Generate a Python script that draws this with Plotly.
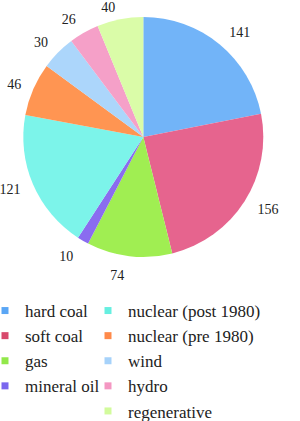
import plotly.graph_objects as go

labels = ["hard coal", "soft coal", "gas", "mineral oil", "nuclear (post 1980)",
          "nuclear (pre 1980)", "wind", "hydro", "regenerative"]
values = [141, 156, 74, 10, 121, 46, 30, 26, 40]
colors = ["#72b4f8", "#e6648e", "#a0ee52", "#8a6cf0", "#7cf4ea",
          "#ff9552", "#acd6fb", "#f5a0c8", "#dafca8"]
legend_colors = ["#5aa6f5", "#d8496c", "#92e84a", "#7a66ee", "#66efe0",
                 "#ff8a4a", "#a6d2fa", "#f497c2", "#d2fb9c"]
col1 = labels[:4]
col2 = labels[4:]

# style: extra outward offset of each value label (fraction of radius)
label_pull = [0.08, 0.09, 0.1, 0.1, 0.08, 0.075, 0.075, 0.075, 0.0]
# the top label is laid out on its own so it is not pushed by its neighbour
solo = "regenerative"
solo_pull = 0.04

W, H = 300, 421
cx, cy, r = 143.3, 137, 120
fnt = dict(family="Liberation Serif", size=14, color="#222")


def label_pie(texts, pulls):
    R = r * (1 + max(pulls))
    return go.Pie(
        labels=labels, values=values, sort=False, direction="clockwise", rotation=0,
        marker=dict(colors=["rgba(0,0,0,0)"] * len(values), line=dict(width=0)),
        pull=pulls, text=texts, textinfo="text", textposition="outside",
        textfont=fnt, showlegend=False, hoverinfo="skip",
        domain=dict(x=[(cx - R) / W, (cx + R) / W], y=[(H - cy - R) / H, (H - cy + R) / H]),
    )


fig = go.Figure()
fig.add_trace(label_pie([("" if l == solo else str(v)) for l, v in zip(labels, values)],
                        label_pull))
fig.add_trace(label_pie([(str(v) if l == solo else "") for l, v in zip(labels, values)],
                        [solo_pull] * len(values)))
fig.add_trace(go.Pie(
    labels=labels, values=values, sort=False, direction="clockwise", rotation=0,
    marker=dict(colors=colors, line=dict(width=0)),
    textinfo="none", showlegend=False, hoverinfo="label+value",
    domain=dict(x=[(cx - r) / W, (cx + r) / W], y=[(H - cy - r) / H, (H - cy + r) / H]),
))

for lab, c in zip(labels, legend_colors):
    fig.add_trace(go.Scatter(
        x=[None], y=[None], mode="markers", name=lab,
        marker=dict(symbol="square", size=7, color=c),
        legend="legend" if lab in col1 else "legend2",
    ))

legend_common = dict(font=dict(family="Liberation Serif", size=17, color="#222"),
                     bgcolor="rgba(0,0,0,0)", borderwidth=0,
                     yanchor="top", xanchor="left", tracegroupgap=0,
                     itemclick=False, itemdoubleclick=False)
fig.update_layout(
    width=W, height=H, margin=dict(l=0, r=0, t=0, b=0, autoexpand=False),
    paper_bgcolor="white", plot_bgcolor="white",
    xaxis=dict(visible=False), yaxis=dict(visible=False),
    legend=dict(x=-15 / W, y=(H - 293) / H, **legend_common),
    legend2=dict(x=88 / W, y=(H - 293) / H, **legend_common),
)
fig.write_html("out.html")
